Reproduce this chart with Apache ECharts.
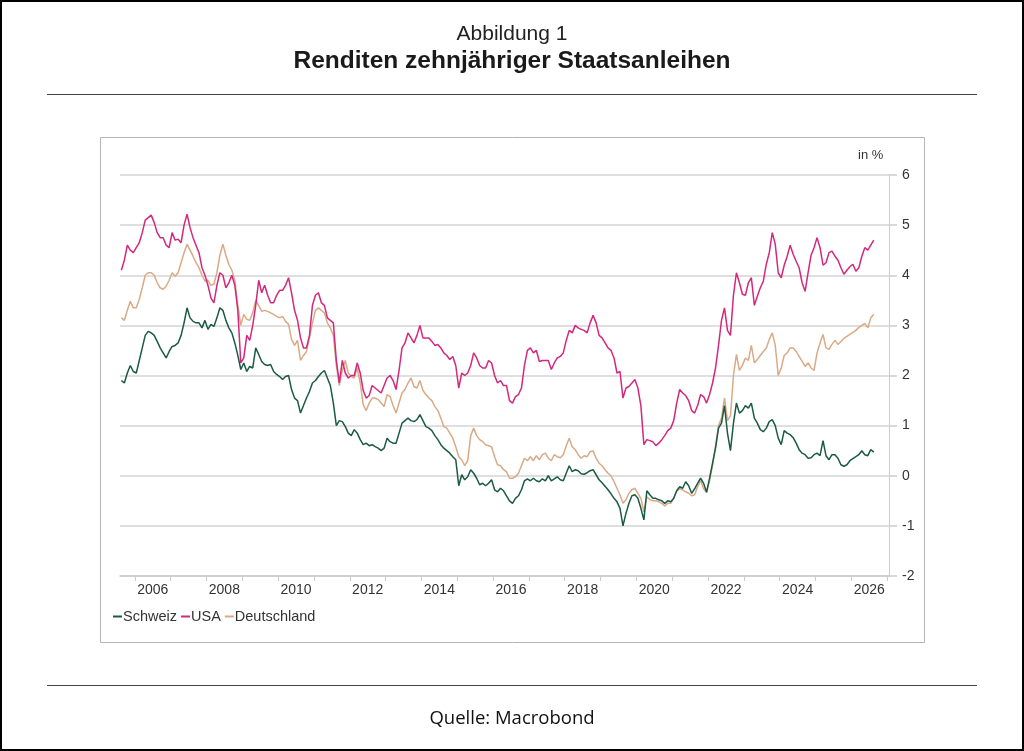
<!DOCTYPE html>
<html>
<head>
<meta charset="utf-8">
<script src="https://cdn.jsdelivr.net/npm/echarts@6/dist/echarts.min.js"></script>
<style>
html,body{margin:0;padding:0;background:#fff;}
#chart{width:1024px;height:751px;}
</style>
</head>
<body>
<div id="chart"></div>
<script>
// Monthly observations, first month = August 2005
const startYear = 2005;
const startMonth = 8;

const seriesNames = ['Schweiz', 'USA', 'Deutschland'];

const schweiz = [
  1.90,1.85,2.05,2.20,2.08,
  2.05,2.30,2.55,2.80,2.88,2.85,2.80,2.68,2.55,2.45,2.35,2.48,
  2.58,2.60,2.65,2.80,3.05,3.35,3.15,3.08,3.05,3.05,2.95,3.10,
  2.92,3.02,2.98,3.15,3.35,3.30,3.10,2.95,2.85,2.65,2.40,2.12,
  2.25,2.08,2.18,2.15,2.55,2.42,2.28,2.22,2.20,2.22,2.08,2.02,
  1.98,1.92,1.98,2.00,1.72,1.55,1.50,1.25,1.40,1.55,1.68,1.85,
  1.90,1.98,2.05,2.10,1.95,1.80,1.45,1.00,1.10,1.08,0.98,0.85,
  0.80,0.92,0.85,0.72,0.62,0.65,0.60,0.62,0.58,0.55,0.50,0.55,
  0.75,0.68,0.65,0.65,0.85,1.05,1.10,1.15,1.10,1.08,1.12,1.22,
  1.10,0.98,0.95,0.90,0.80,0.72,0.62,0.55,0.50,0.45,0.38,0.32,
  -0.20,0.02,-0.08,-0.02,0.12,0.05,-0.05,-0.18,-0.15,-0.20,-0.15,-0.08,
  -0.28,-0.32,-0.25,-0.30,-0.40,-0.50,-0.55,-0.45,-0.40,-0.28,-0.10,-0.06,
  -0.10,-0.05,-0.10,-0.12,-0.06,-0.10,0.00,-0.10,-0.06,-0.02,-0.08,-0.10,
  0.05,0.20,0.08,0.12,0.10,0.04,0.03,0.06,0.10,0.12,0.02,-0.08,
  -0.14,-0.21,-0.28,-0.36,-0.45,-0.52,-0.65,-1.00,-0.75,-0.55,-0.40,-0.38,
  -0.45,-0.65,-0.88,-0.30,-0.38,-0.45,-0.45,-0.48,-0.50,-0.55,-0.50,-0.52,
  -0.45,-0.30,-0.22,-0.25,-0.12,-0.20,-0.35,-0.26,-0.15,-0.05,-0.15,-0.33,
  -0.05,0.25,0.55,0.95,1.05,1.40,0.85,0.50,1.05,1.45,1.25,1.30,
  1.40,1.35,1.45,1.15,1.05,0.92,0.88,0.95,1.08,1.12,1.00,0.75,
  0.62,0.90,0.85,0.82,0.76,0.65,0.52,0.45,0.42,0.35,0.36,0.42,
  0.45,0.40,0.70,0.40,0.32,0.42,0.42,0.35,0.22,0.19,0.22,0.30,
  0.34,0.38,0.42,0.50,0.42,0.40,0.52,0.47
];

const usa = [
  4.10,4.30,4.60,4.50,4.45,
  4.55,4.65,4.85,5.10,5.15,5.20,5.05,4.85,4.75,4.75,4.60,4.55,
  4.85,4.70,4.72,4.65,5.00,5.22,4.95,4.75,4.60,4.45,4.15,4.00,
  3.80,3.55,3.45,3.80,4.05,4.00,3.75,3.85,4.00,3.80,3.30,2.25,
  2.35,2.80,2.70,3.00,3.40,3.90,3.65,3.80,3.60,3.45,3.45,3.60,
  3.70,3.70,3.80,3.95,3.65,3.30,3.10,2.75,2.55,2.55,2.80,3.40,
  3.60,3.65,3.45,3.40,3.15,3.10,3.05,2.30,1.85,2.30,2.05,1.95,
  2.00,2.00,2.25,2.05,1.70,1.55,1.60,1.80,1.75,1.70,1.65,1.80,
  1.95,2.00,1.90,1.72,2.10,2.55,2.65,2.85,2.75,2.65,2.80,3.00,
  2.75,2.75,2.75,2.68,2.60,2.62,2.55,2.45,2.40,2.32,2.38,2.20,
  1.75,2.05,2.00,2.05,2.20,2.45,2.35,2.20,2.15,2.15,2.30,2.25,
  2.00,1.85,1.90,1.80,1.80,1.50,1.45,1.58,1.62,1.75,2.20,2.50,
  2.55,2.45,2.50,2.28,2.30,2.30,2.30,2.12,2.25,2.35,2.38,2.45,
  2.70,2.90,2.85,3.00,2.95,2.92,2.90,2.85,3.05,3.20,3.05,2.80,
  2.75,2.65,2.55,2.50,2.35,2.05,2.08,1.55,1.75,1.78,1.85,1.92,
  1.75,1.40,0.62,0.72,0.70,0.68,0.60,0.65,0.72,0.80,0.90,0.95,
  1.10,1.45,1.72,1.65,1.60,1.50,1.30,1.25,1.40,1.62,1.58,1.45,
  1.62,1.85,2.15,2.60,3.10,3.35,2.90,2.80,3.60,4.05,3.85,3.62,
  3.60,3.85,3.95,3.40,3.58,3.75,3.88,4.22,4.45,4.85,4.62,4.05,
  3.95,4.20,4.38,4.60,4.42,4.28,4.15,3.85,3.68,4.05,4.40,4.55,
  4.75,4.55,4.20,4.25,4.45,4.48,4.38,4.30,4.15,4.02,4.10,4.17,
  4.22,4.08,4.15,4.38,4.55,4.50,4.60,4.70
];

const deutschland = [
  3.15,3.10,3.30,3.48,3.35,
  3.35,3.52,3.75,4.00,4.05,4.05,4.00,3.85,3.75,3.72,3.78,3.90,
  4.05,3.98,4.05,4.25,4.45,4.62,4.50,4.38,4.25,4.15,4.00,3.88,
  3.90,3.80,3.82,4.05,4.40,4.62,4.40,4.22,4.10,3.90,3.40,3.00,
  3.22,3.12,3.10,3.25,3.50,3.40,3.28,3.30,3.28,3.25,3.22,3.18,
  3.15,3.18,3.08,3.02,2.72,2.60,2.70,2.30,2.40,2.48,2.75,3.05,
  3.30,3.35,3.30,3.25,3.05,2.95,2.80,2.20,1.80,2.10,2.30,2.05,
  1.98,1.95,2.15,1.85,1.42,1.30,1.45,1.55,1.55,1.52,1.45,1.38,
  1.62,1.58,1.40,1.25,1.45,1.65,1.72,1.85,1.95,1.78,1.75,1.90,
  1.70,1.62,1.55,1.50,1.38,1.30,1.15,0.98,0.95,0.85,0.75,0.58,
  0.38,0.32,0.20,0.30,0.80,0.95,0.80,0.72,0.68,0.62,0.60,0.58,
  0.38,0.22,0.20,0.12,0.08,-0.05,-0.05,-0.02,0.05,0.20,0.35,0.30,
  0.38,0.30,0.40,0.32,0.42,0.45,0.35,0.30,0.42,0.38,0.36,0.42,
  0.60,0.75,0.58,0.52,0.42,0.35,0.40,0.38,0.48,0.50,0.35,0.25,
  0.20,0.12,0.05,0.00,-0.12,-0.25,-0.38,-0.55,-0.48,-0.35,-0.28,-0.25,
  -0.35,-0.45,-0.72,-0.42,-0.48,-0.50,-0.50,-0.52,-0.55,-0.60,-0.55,-0.55,
  -0.45,-0.30,-0.26,-0.28,-0.32,-0.35,-0.40,-0.38,-0.22,-0.10,-0.26,-0.33,
  -0.10,0.20,0.60,1.00,1.15,1.55,1.10,1.20,2.00,2.42,2.10,2.20,
  2.35,2.30,2.60,2.25,2.32,2.40,2.48,2.55,2.72,2.85,2.60,2.00,
  2.15,2.40,2.45,2.55,2.55,2.48,2.38,2.28,2.18,2.25,2.15,2.10,
  2.45,2.65,2.82,2.55,2.52,2.62,2.70,2.62,2.68,2.74,2.78,2.82,
  2.86,2.90,2.96,3.00,3.04,2.95,3.15,3.22
];

const yearTicks = [2006,2007,2008,2009,2010,2011,2012,2013,2014,2015,2016,2017,2018,2019,2020,2021,2022,2023,2024,2025,2026,2027];
const yearLabels = [2006,2008,2010,2012,2014,2016,2018,2020,2022,2024,2026];

function toPoints(values) {
  return values.map(function (v, i) {
    const m = startMonth - 1 + i;
    const y = startYear + Math.floor(m / 12);
    const mon = m % 12;
    return [y + (mon + 0.5) / 12, v];
  });
}

const colors = { Schweiz: '#1b5a45', USA: '#d3287c', Deutschland: '#d9aa86' };
const sans = 'Liberation Sans, Arial, sans-serif';

const chart = echarts.init(document.getElementById('chart'), null, { renderer: 'canvas' });
chart.setOption({
  animation: false,
  backgroundColor: '#fff',
  textStyle: { fontFamily: sans },
  title: [
    { text: 'Abbildung 1', left: 'center', top: 19,
      textStyle: { fontSize: 21, fontWeight: 'normal', color: '#222', fontFamily: sans } },
    { text: 'Renditen zehnjähriger Staatsanleihen', left: 'center', top: 44,
      textStyle: { fontSize: 24.5, fontWeight: 'bold', color: '#1a1a1a', fontFamily: sans } },
    { text: 'Quelle: Macrobond', left: 'center', top: 704,
      textStyle: { fontSize: 18.5, fontWeight: 'normal', color: '#111', fontFamily: 'Open Sans, Liberation Sans, sans-serif' } }
  ],
  graphic: [
    { type: 'rect', shape: { x: 1, y: 1, width: 1022, height: 749 }, style: { fill: 'none', stroke: '#000', lineWidth: 2 }, silent: true },
    { type: 'line', shape: { x1: 47, y1: 94.5, x2: 977, y2: 94.5 }, style: { stroke: '#444', lineWidth: 1 }, silent: true },
    { type: 'line', shape: { x1: 47, y1: 685.5, x2: 977, y2: 685.5 }, style: { stroke: '#444', lineWidth: 1 }, silent: true },
    { type: 'rect', shape: { x: 100.5, y: 137.5, width: 824, height: 505 }, style: { fill: 'none', stroke: '#b5b5b5', lineWidth: 1 }, silent: true },
    { type: 'text', left: 858, top: 149, style: { text: 'in %', fontSize: 13, fill: '#333', fontFamily: sans }, silent: true }
  ],
  grid: { left: 120, right: 135, top: 175, bottom: 175, containLabel: false },
  legend: {
    data: seriesNames,
    left: 108, top: 604,
    icon: 'rect', itemWidth: 9, itemHeight: 2, itemGap: 4,
    textStyle: { fontSize: 14.5, color: '#333', padding: [0, 0, 0, -4], fontFamily: sans }
  },
  xAxis: {
    type: 'value', min: 2005.587, max: 2027.05,
    axisLine: { show: true, onZero: false, lineStyle: { color: '#cccccc', width: 1.5 } },
    axisTick: { show: true, customValues: yearTicks, length: 5, lineStyle: { color: '#cccccc' } },
    axisLabel: { customValues: yearLabels.map(function (y) { return y + 0.5; }),
      formatter: function (v) { return String(Math.floor(v)); },
      fontSize: 14, color: '#333', margin: 7 },
    splitLine: { show: false }
  },
  yAxis: {
    type: 'value', position: 'right', min: -2, max: 6, interval: 1,
    axisLine: { show: true, lineStyle: { color: '#cccccc', width: 1 } },
    axisTick: { show: true, length: 8, lineStyle: { color: '#cccccc', width: 1.5 } },
    axisLabel: { fontSize: 14, color: '#333', margin: 13 },
    splitLine: { show: true, lineStyle: { color: '#d4d4d4', width: 1.5 } }
  },
  series: [
    { name: 'Deutschland', type: 'line', data: toPoints(deutschland), showSymbol: false, z: 2,
      lineStyle: { color: colors.Deutschland, width: 1.5 }, itemStyle: { color: colors.Deutschland } },
    { name: 'USA', type: 'line', data: toPoints(usa), showSymbol: false, z: 3,
      lineStyle: { color: colors.USA, width: 1.5 }, itemStyle: { color: colors.USA } },
    { name: 'Schweiz', type: 'line', data: toPoints(schweiz), showSymbol: false, z: 4,
      lineStyle: { color: colors.Schweiz, width: 1.5 }, itemStyle: { color: colors.Schweiz } }
  ]
});
</script>
</body>
</html>
